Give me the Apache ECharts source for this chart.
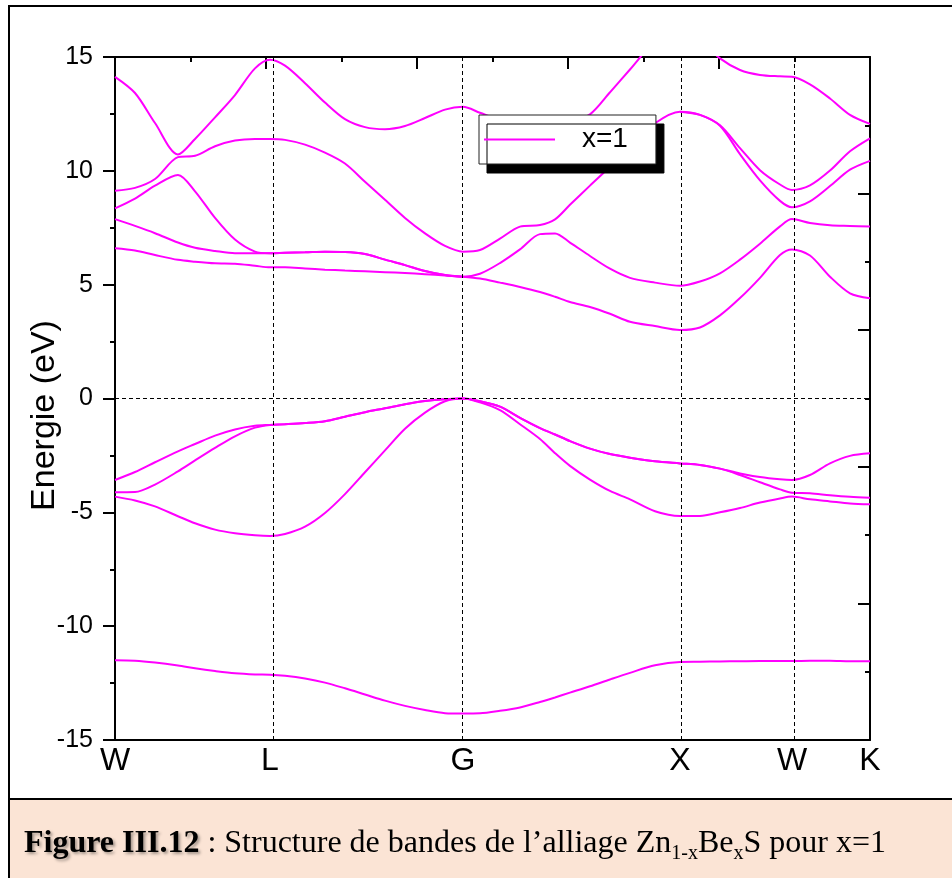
<!DOCTYPE html>
<html>
<head>
<meta charset="utf-8">
<script src="https://cdn.jsdelivr.net/npm/echarts@6/dist/echarts.min.js"></script>
<style>
  html, body { margin: 0; padding: 0; background: #fff; }
  #chart { width: 952px; height: 878px; }
</style>
</head>
<body>
<div id="chart"></div>
<script>
// points de haute symétrie le long du chemin
const kLabels = ["W", "L", "G", "X", "W", "K"];
const kPoints = [0, 0.2053, 0.4609, 0.7483, 0.8967, 1];

// grille k (W-L, L-G, G-X, X-W, W-K)
const kGrid = [
  0, 0.0265, 0.0530, 0.0834, 0.1060, 0.1325, 0.1589, 0.1854, 0.2053,
  0.2252, 0.2517, 0.2781, 0.3046, 0.3311, 0.3576, 0.3841, 0.4106, 0.4371, 0.4609,
  0.4834, 0.5099, 0.5364, 0.5629, 0.5828, 0.6026, 0.6291, 0.6556, 0.6821, 0.7152, 0.7483,
  0.7748, 0.8013, 0.8278, 0.8543, 0.8808, 0.8967,
  0.9205, 0.9470, 0.9735, 1
];

// bandes de valence (eV)
const v0 = [
  -11.50, -11.52, -11.60, -11.73, -11.85, -11.97, -12.07, -12.12, -12.13,
  -12.18, -12.30, -12.48, -12.73, -13.00, -13.27, -13.50, -13.68, -13.82, -13.84,
  -13.83, -13.72, -13.57, -13.33, -13.13, -12.92, -12.64, -12.34, -12.05, -11.72, -11.57,
  -11.56, -11.55, -11.54, -11.53, -11.53, -11.53,
  -11.52, -11.52, -11.54, -11.54
];
const v1 = [
  -4.31, -4.48, -4.74, -5.17, -5.48, -5.76, -5.92, -6.01, -6.04,
  -5.95, -5.63, -5.03, -4.20, -3.24, -2.28, -1.33, -0.62, -0.12, 0,
  -0.17, -0.51, -1.13, -1.78, -2.40, -2.96, -3.56, -4.06, -4.43, -4.95, -5.16,
  -5.16, -5.00, -4.81, -4.57, -4.39, -4.31,
  -4.43, -4.52, -4.61, -4.65
];
const v2 = [
  -4.12, -4.11, -3.78, -3.20, -2.72, -2.17, -1.66, -1.28, -1.16,
  -1.13, -1.08, -1.00, -0.80, -0.60, -0.43, -0.25, -0.11, -0.03, 0,
  -0.12, -0.36, -0.85, -1.30, -1.58, -1.87, -2.20, -2.44, -2.60, -2.76, -2.85,
  -2.92, -3.08, -3.36, -3.68, -3.99, -4.14,
  -4.16, -4.25, -4.32, -4.36
];
const v3 = [
  -3.58, -3.23, -2.80, -2.32, -2.00, -1.63, -1.36, -1.20, -1.16,
  -1.13, -1.08, -1.00, -0.80, -0.60, -0.43, -0.25, -0.11, -0.03, 0,
  -0.12, -0.36, -0.85, -1.30, -1.58, -1.87, -2.20, -2.44, -2.60, -2.76, -2.85,
  -2.92, -3.08, -3.29, -3.45, -3.55, -3.58,
  -3.36, -2.85, -2.52, -2.41
];

// bandes de conduction (eV), null = pas de trait
const c1 = [
  6.60, 6.50, 6.30, 6.09, 6.01, 5.94, 5.92, 5.83, 5.76,
  5.76, 5.71, 5.66, 5.62, 5.59, 5.55, 5.51, 5.46, 5.40, 5.35,
  5.27, 5.09, 4.90, 4.68, 4.47, 4.24, 4.02, 3.72, 3.37, 3.18, 3.01,
  3.12, 3.65, 4.41, 5.30, 6.30, 6.55,
  6.28, 5.35, 4.62, 4.40
];
const c2 = [
  7.88, 7.58, 7.26, 6.85, 6.62, 6.48, 6.38, 6.38, 6.38,
  6.40, 6.42, 6.45, 6.44, 6.35, 6.10, 5.86, 5.60, 5.42, 5.35,
  5.48, 5.95, 6.55, 7.22, 7.25, 6.85, 6.26, 5.70, 5.30, 5.09, 4.95,
  5.14, 5.50, 6.10, 6.80, 7.56, 7.88,
  7.71, 7.61, 7.58, 7.55
];
const c3 = [
  8.35, 8.78, 9.35, 9.82, 9.10, 7.93, 6.98, 6.45, 6.38,
  6.40, 6.42, 6.45, 6.44, 6.35, 6.10, 5.86, 5.60, 5.42, 5.35,
  null, null, null, null, null, null, null, null, null, null, null,
  null, null, null, null, null, null,
  null, null, null, null
];
const c4 = [
  9.13, 9.25, 9.64, 10.60, 10.66, 11.08, 11.33, 11.40, 11.40,
  11.36, 11.15, 10.80, 10.32, 9.52, 8.73, 7.93, 7.25, 6.70, 6.45,
  6.52, 7.02, 7.55, 7.62, 7.87, 8.51, 9.35, 10.18, 11.05, 12.09, 12.60,
  12.46, 11.98, 10.73, 9.58, 8.68, 8.40,
  8.66, 9.33, 10.05, 10.44
];
const c5 = [
  14.13, 13.42, 12.10, 10.72, 11.40, 12.35, 13.33, 14.50, 14.88,
  14.62, 13.85, 13.00, 12.27, 11.92, 11.83, 11.97, 12.32, 12.69, 12.81,
  12.55, 12.25, 12.05, 11.98, 12.02, 12.15, 12.48, 13.45, 14.45, 15.70, 16.40,
  15.75, 14.94, 14.43, 14.21, 14.15, 14.13,
  13.80, 13.18, 12.46, 12.06
];
const c6 = [
  null, null, null, null, null, null, null, null, null,
  null, null, null, null, null, null, null, null, null, null,
  null, null, null, null, null, null, null, null, null, null, 12.60,
  12.46, 12.00, 11.00, 10.03, 9.40, 9.16,
  9.36, 10.01, 10.86, 11.43
];

const bands = [v0, v1, v2, v3, c1, c2, c3, c4, c5, c6];
const seriesName = "x=1";

const sans = "Liberation Sans";
const serif = "Liberation Serif";

let chartDom = document.getElementById("chart");
let myChart = echarts.init(chartDom);

let series = bands.map((b, i) => {
  let s = {
    name: seriesName,
    type: "line",
    xAxisIndex: 0,
    yAxisIndex: 0,
    symbol: "none",
    showSymbol: false,
    smooth: 0.3,
    connectNulls: false,
    color: "#FF00FF",
    lineStyle: { color: "#FF00FF", width: 2 },
    data: kGrid.map((k, j) => [k, b[j] === null ? "-" : b[j]]),
  };
  if (i === 0) {
    // lignes pointillées : niveau de Fermi et points de symétrie
    s.markLine = {
      silent: true,
      symbol: ["none", "none"],
      label: { show: false },
      lineStyle: { color: "#000", type: [4, 3], width: 1 },
      data: [{ yAxis: 0 }].concat(
        kPoints.slice(1, kPoints.length - 1).map((k) => ({ xAxis: k }))
      ),
    };
  }
  return s;
});

let axisLine = { show: true, onZero: false, lineStyle: { color: "#000", width: 2 } };
let tickStyle = { color: "#000", width: 2 };

let option = {
  animation: false,
  backgroundColor: "#fff",
  grid: { left: 115, top: 57, width: 755, height: 683 },
  legend: {
    data: [seriesName],
    left: 479,
    top: 115,
    icon: "rect",
    itemWidth: 71,
    itemHeight: 2,
    itemGap: 0,
    selectedMode: false,
    padding: [8, 28, 8, 5],
    backgroundColor: "#fff",
    borderColor: "#222",
    borderWidth: 1,
    shadowColor: "#000",
    shadowBlur: 0,
    shadowOffsetX: 8,
    shadowOffsetY: 9,
    textStyle: {
      fontFamily: sans,
      fontSize: 28,
      color: "#000",
      lineHeight: 33,
      padding: [0, 0, 0, 22],
    },
  },
  xAxis: [
    {
      type: "value",
      position: "bottom",
      min: 0,
      max: 1,
      axisLine: axisLine,
      axisTick: { show: false },
      splitLine: { show: false },
      axisLabel: {
        customValues: kPoints,
        showMinLabel: true,
        showMaxLabel: true,
        hideOverlap: false,
        margin: 5,
        fontFamily: sans,
        fontSize: 32,
        color: "#000",
        formatter: (val) => {
          let i = kPoints.findIndex((k) => Math.abs(k - val) < 1e-6);
          return i >= 0 ? kLabels[i] : "";
        },
      },
    },
    {
      type: "value",
      position: "top",
      min: 0,
      max: 1,
      interval: 0.2,
      axisLine: axisLine,
      axisTick: { show: true, inside: true, length: 12, lineStyle: tickStyle },
      minorTick: { show: true, splitNumber: 2, length: 5, lineStyle: tickStyle },
      axisLabel: { show: false },
      splitLine: { show: false },
    },
  ],
  yAxis: [
    {
      type: "value",
      position: "left",
      min: -15,
      max: 15,
      interval: 5,
      axisLine: axisLine,
      axisTick: { show: true, length: 12, lineStyle: tickStyle },
      minorTick: { show: true, splitNumber: 2, length: 5, lineStyle: tickStyle },
      splitLine: { show: false },
      axisLabel: { margin: 22, fontFamily: sans, fontSize: 25, color: "#000" },
      name: "Energie (eV)",
      nameLocation: "middle",
      nameGap: 53,
      nameMoveOverlap: false,
      nameTextStyle: { fontFamily: sans, fontSize: 34, color: "#000", padding: [0, 34, 0, 0] },
    },
    {
      type: "value",
      position: "right",
      min: -15,
      max: 15,
      interval: 6,
      axisLine: axisLine,
      axisTick: { show: true, inside: true, length: 12, lineStyle: tickStyle },
      minorTick: { show: true, splitNumber: 2, length: 5, lineStyle: tickStyle },
      splitLine: { show: false },
      axisLabel: { show: false },
    },
  ],
  graphic: [
    {
      type: "rect",
      z: -1,
      shape: { x: 9, y: 6, width: 960, height: 793 },
      style: { fill: "none", stroke: "#000", lineWidth: 2 },
    },
    {
      type: "rect",
      z: -1,
      shape: { x: 9, y: 799, width: 960, height: 100 },
      style: { fill: "#FBE4D5", stroke: "#000", lineWidth: 2 },
    },
    {
      type: "text",
      left: 24,
      top: 824,
      style: {
        text: "{b|Figure III.12} : Structure de bandes de l\u2019alliage Zn{s|1-x}Be{s|x}S pour x=1",
        fontFamily: serif,
        fontSize: 32,
        lineHeight: 40,
        fill: "#000",
        rich: {
          b: {
            fontFamily: serif,
            fontSize: 32,
            fontWeight: "bold",
            lineHeight: 40,
            textShadowColor: "rgba(0,0,0,0.35)",
            textShadowBlur: 3,
            textShadowOffsetX: 2,
            textShadowOffsetY: 2,
          },
          s: {
            fontFamily: serif,
            fontSize: 20,
            lineHeight: 20,
            verticalAlign: "bottom",
          },
        },
      },
    },
  ],
  series: series,
};

myChart.setOption(option);
</script>
</body>
</html>
